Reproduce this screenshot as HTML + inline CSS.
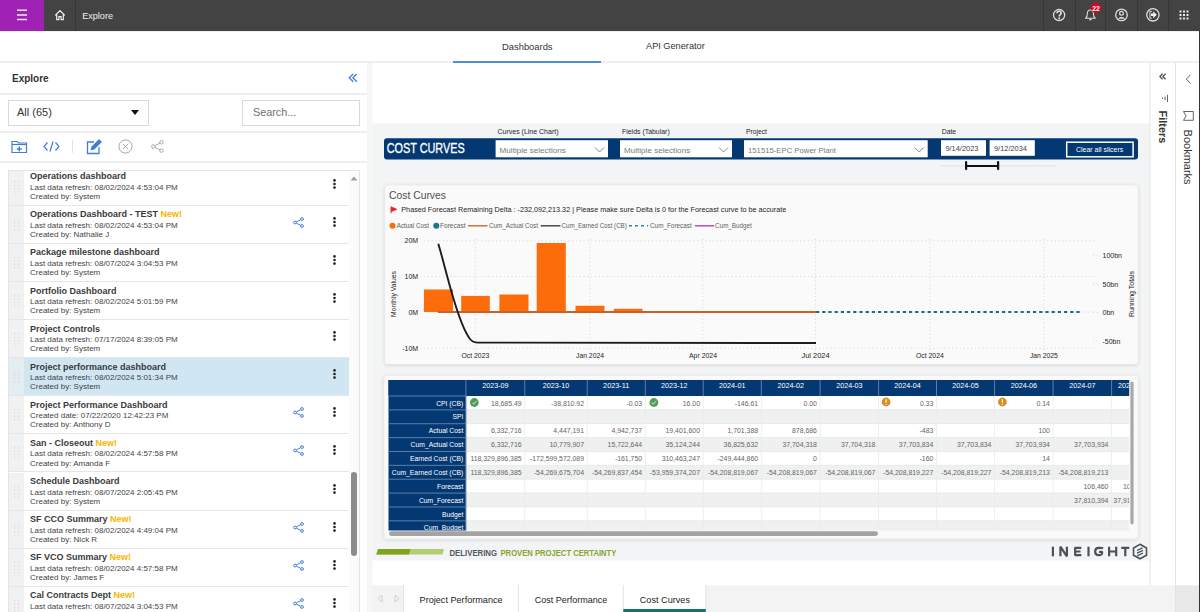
<!DOCTYPE html>
<html><head><meta charset="utf-8">
<style>
*{margin:0;padding:0;box-sizing:border-box}
html,body{width:1200px;height:612px;overflow:hidden;background:#fff;font-family:"Liberation Sans",sans-serif;color:#333}
.a{position:absolute}
.t{position:absolute;white-space:nowrap;line-height:1}
#top{left:0;top:0;width:1200px;height:31px;background:#434343}
#purple{left:0;top:0;width:44px;height:31px;background:#a022b5}
.vsep{position:absolute;top:0;width:1px;height:31px;background:#363636}
.hl{position:absolute;height:2px;background:#efefef}
.item{position:absolute;left:0;width:340px;height:38px;border-bottom:1px solid #e6e6e6;background:#fff}
.item .h{position:absolute;left:0;top:0;width:15px;height:37px;background:#f1f1f1}
.item .ti{position:absolute;left:21px;top:4.5px;font-size:9px;font-weight:bold;color:#3a3a3a;white-space:nowrap;line-height:1}
.item .s1{position:absolute;left:21px;top:16px;font-size:8px;color:#444;white-space:nowrap;line-height:1}
.item .s2{position:absolute;left:21px;top:25.2px;font-size:8px;color:#444;white-space:nowrap;line-height:1}
.item .new{color:#f7b500}
.item.sel{background:#d0e6f3}
.item.sel .h{background:#e4edf1}
</style></head><body>

<!-- top bar -->
<div id="top" class="a"></div>
<div id="purple" class="a"></div>
<div class="a" style="left:0;top:31px;width:1200px;height:1px;background:#f1f1f1"></div>
<div class="vsep" style="left:75px"></div>
<div class="vsep" style="left:1043px"></div>
<div class="vsep" style="left:1075px"></div>
<div class="vsep" style="left:1105px"></div>
<div class="vsep" style="left:1137px"></div>
<div class="vsep" style="left:1168px"></div>

<!-- tabs row -->
<div class="hl" style="left:0;top:61px;width:1200px"></div>
<div class="a" style="left:453px;top:61px;width:148px;height:2px;background:#4a90d9"></div>
<div class="t" style="left:502px;top:42px;font-size:9.4px;color:#333">Dashboards</div>
<div class="t" style="left:646px;top:42.3px;font-size:9.2px;color:#333">API Generator</div>


<!-- SIDEBAR -->
<div class="t" style="left:12px;top:73.5px;font-size:10px;font-weight:bold;color:#333">Explore</div>
<svg class="a" style="left:348px;top:73px" width="11" height="10" viewBox="0 0 11 10"><g fill="none" stroke="#3f7fd8" stroke-width="1.3"><path d="M5.2 1L1.2 4.8L5.2 8.7M8.8 1L4.9 4.8L8.8 8.7"/></g></svg>
<div class="hl" style="left:0;top:93px;width:367px"></div>
<div class="a" style="left:8px;top:100px;width:141px;height:26px;border:1px solid #d9d9d9;background:#fff"></div>
<div class="t" style="left:17px;top:107px;font-size:11px;color:#333">All (65)</div>
<svg class="a" style="left:131px;top:110px" width="8" height="5"><path d="M0 0H8L4 5Z" fill="#111"/></svg>
<div class="a" style="left:242px;top:100px;width:118px;height:26px;border:1px solid #d9d9d9;background:#fff"></div>
<div class="t" style="left:253px;top:107px;font-size:10.8px;color:#6f6f6f">Search...</div>
<div class="hl" style="left:0;top:131px;width:367px"></div>
<!-- toolbar icons -->
<svg class="a" style="left:11px;top:140px" width="17" height="14" viewBox="0 0 17 14"><g fill="none" stroke="#3f7fd8" stroke-width="1.2"><path d="M1 1.5H6L7.5 3H15.5V12.5H1Z"/><path d="M1 4.5H15.5"/><path d="M8.3 6.5V11.5M5.8 9H10.8" stroke-width="1.4"/></g></svg>
<svg class="a" style="left:43px;top:141px" width="17" height="11" viewBox="0 0 17 11"><g fill="none" stroke="#3f7fd8" stroke-width="1.2"><path d="M4.5 1.5L1 5.5L4.5 9.5M12.5 1.5L16 5.5L12.5 9.5M10 0.5L7 10.5"/></g></svg>
<div class="a" style="left:72px;top:140px;width:1px;height:13px;background:#e2e2e2"></div>
<svg class="a" style="left:86px;top:139px" width="16" height="16" viewBox="0 0 16 16"><g fill="none" stroke="#3f7fd8" stroke-width="1.3"><path d="M8 3H1.5V14.5H13V8"/><path d="M5.5 10.5L6 8L13 1L15 3L8 10Z" fill="#3f7fd8"/></g></svg>
<svg class="a" style="left:118px;top:139px" width="15" height="15" viewBox="0 0 15 15"><g fill="none" stroke="#a6a6a6" stroke-width="1"><circle cx="7.5" cy="7.5" r="6.6"/><path d="M4.8 4.8L10.2 10.2M10.2 4.8L4.8 10.2"/></g></svg>
<svg class="a" style="left:151px;top:140px" width="13" height="13" viewBox="0 0 13 13"><g fill="none" stroke="#a6a6a6" stroke-width="1"><circle cx="2.3" cy="6.5" r="1.7"/><circle cx="10.5" cy="2.3" r="1.7"/><circle cx="10.5" cy="10.7" r="1.7"/><path d="M3.8 5.7L9 3.1M3.8 7.3L9 9.9"/></g></svg>
<div class="hl" style="left:0;top:161px;width:367px"></div>
<!-- list -->
<div class="a" style="left:8px;top:170px;width:352px;height:460px;border:1px solid #e4e4e4;overflow:hidden;background:#fff">
<div class="item" style="top:-3.3px"><div class="h"><svg class="a" style="left:5px;top:13px" width="6" height="12"><g fill="#d8d8d8"><rect x="0" y="0" width="1.2" height="1.2"/><rect x="4" y="0" width="1.2" height="1.2"/><rect x="0" y="3.5" width="1.2" height="1.2"/><rect x="4" y="3.5" width="1.2" height="1.2"/><rect x="0" y="7" width="1.2" height="1.2"/><rect x="4" y="7" width="1.2" height="1.2"/><rect x="0" y="10.5" width="1.2" height="1.2"/><rect x="4" y="10.5" width="1.2" height="1.2"/></g></svg></div><div class="ti">Operations dashboard</div><div class="s1">Last data refresh: 08/02/2024 4:53:04 PM</div><div class="s2">Created by: System</div><svg class="a" style="left:324px;top:10px" width="3" height="12"><g fill="#222"><circle cx="1.5" cy="2.4" r="1.3"/><circle cx="1.5" cy="6" r="1.3"/><circle cx="1.5" cy="9.6" r="1.3"/></g></svg></div>
<div class="item" style="top:34.8px"><div class="h"><svg class="a" style="left:5px;top:13px" width="6" height="12"><g fill="#d8d8d8"><rect x="0" y="0" width="1.2" height="1.2"/><rect x="4" y="0" width="1.2" height="1.2"/><rect x="0" y="3.5" width="1.2" height="1.2"/><rect x="4" y="3.5" width="1.2" height="1.2"/><rect x="0" y="7" width="1.2" height="1.2"/><rect x="4" y="7" width="1.2" height="1.2"/><rect x="0" y="10.5" width="1.2" height="1.2"/><rect x="4" y="10.5" width="1.2" height="1.2"/></g></svg></div><div class="ti">Operations Dashboard - TEST <span class="new">New!</span></div><div class="s1">Last data refresh: 08/02/2024 4:53:04 PM</div><div class="s2">Created by: Nathalie J</div><svg class="a" style="left:284px;top:11px" width="11" height="11" viewBox="0 0 11 11"><g fill="none" stroke="#4a7fd4" stroke-width="1"><circle cx="2" cy="5.5" r="1.4"/><circle cx="9" cy="2" r="1.4"/><circle cx="9" cy="9" r="1.4"/><path d="M3.3 4.8L7.7 2.7M3.3 6.2L7.7 8.3"/></g></svg><svg class="a" style="left:324px;top:10px" width="3" height="12"><g fill="#222"><circle cx="1.5" cy="2.4" r="1.3"/><circle cx="1.5" cy="6" r="1.3"/><circle cx="1.5" cy="9.6" r="1.3"/></g></svg></div>
<div class="item" style="top:72.9px"><div class="h"><svg class="a" style="left:5px;top:13px" width="6" height="12"><g fill="#d8d8d8"><rect x="0" y="0" width="1.2" height="1.2"/><rect x="4" y="0" width="1.2" height="1.2"/><rect x="0" y="3.5" width="1.2" height="1.2"/><rect x="4" y="3.5" width="1.2" height="1.2"/><rect x="0" y="7" width="1.2" height="1.2"/><rect x="4" y="7" width="1.2" height="1.2"/><rect x="0" y="10.5" width="1.2" height="1.2"/><rect x="4" y="10.5" width="1.2" height="1.2"/></g></svg></div><div class="ti">Package milestone dashboard</div><div class="s1">Last data refresh: 08/07/2024 3:04:53 PM</div><div class="s2">Created by: System</div><svg class="a" style="left:324px;top:10px" width="3" height="12"><g fill="#222"><circle cx="1.5" cy="2.4" r="1.3"/><circle cx="1.5" cy="6" r="1.3"/><circle cx="1.5" cy="9.6" r="1.3"/></g></svg></div>
<div class="item" style="top:111.0px"><div class="h"><svg class="a" style="left:5px;top:13px" width="6" height="12"><g fill="#d8d8d8"><rect x="0" y="0" width="1.2" height="1.2"/><rect x="4" y="0" width="1.2" height="1.2"/><rect x="0" y="3.5" width="1.2" height="1.2"/><rect x="4" y="3.5" width="1.2" height="1.2"/><rect x="0" y="7" width="1.2" height="1.2"/><rect x="4" y="7" width="1.2" height="1.2"/><rect x="0" y="10.5" width="1.2" height="1.2"/><rect x="4" y="10.5" width="1.2" height="1.2"/></g></svg></div><div class="ti">Portfolio Dashboard</div><div class="s1">Last data refresh: 08/02/2024 5:01:59 PM</div><div class="s2">Created by: System</div><svg class="a" style="left:324px;top:10px" width="3" height="12"><g fill="#222"><circle cx="1.5" cy="2.4" r="1.3"/><circle cx="1.5" cy="6" r="1.3"/><circle cx="1.5" cy="9.6" r="1.3"/></g></svg></div>
<div class="item" style="top:149.1px"><div class="h"><svg class="a" style="left:5px;top:13px" width="6" height="12"><g fill="#d8d8d8"><rect x="0" y="0" width="1.2" height="1.2"/><rect x="4" y="0" width="1.2" height="1.2"/><rect x="0" y="3.5" width="1.2" height="1.2"/><rect x="4" y="3.5" width="1.2" height="1.2"/><rect x="0" y="7" width="1.2" height="1.2"/><rect x="4" y="7" width="1.2" height="1.2"/><rect x="0" y="10.5" width="1.2" height="1.2"/><rect x="4" y="10.5" width="1.2" height="1.2"/></g></svg></div><div class="ti">Project Controls</div><div class="s1">Last data refresh: 07/17/2024 8:39:05 PM</div><div class="s2">Created by: System</div><svg class="a" style="left:324px;top:10px" width="3" height="12"><g fill="#222"><circle cx="1.5" cy="2.4" r="1.3"/><circle cx="1.5" cy="6" r="1.3"/><circle cx="1.5" cy="9.6" r="1.3"/></g></svg></div>
<div class="item sel" style="top:187.2px"><div class="h"><svg class="a" style="left:5px;top:13px" width="6" height="12"><g fill="#d8d8d8"><rect x="0" y="0" width="1.2" height="1.2"/><rect x="4" y="0" width="1.2" height="1.2"/><rect x="0" y="3.5" width="1.2" height="1.2"/><rect x="4" y="3.5" width="1.2" height="1.2"/><rect x="0" y="7" width="1.2" height="1.2"/><rect x="4" y="7" width="1.2" height="1.2"/><rect x="0" y="10.5" width="1.2" height="1.2"/><rect x="4" y="10.5" width="1.2" height="1.2"/></g></svg></div><div class="ti">Project performance dashboard</div><div class="s1">Last data refresh: 08/02/2024 5:01:34 PM</div><div class="s2">Created by: System</div><svg class="a" style="left:324px;top:10px" width="3" height="12"><g fill="#222"><circle cx="1.5" cy="2.4" r="1.3"/><circle cx="1.5" cy="6" r="1.3"/><circle cx="1.5" cy="9.6" r="1.3"/></g></svg></div>
<div class="item" style="top:225.3px"><div class="h"><svg class="a" style="left:5px;top:13px" width="6" height="12"><g fill="#d8d8d8"><rect x="0" y="0" width="1.2" height="1.2"/><rect x="4" y="0" width="1.2" height="1.2"/><rect x="0" y="3.5" width="1.2" height="1.2"/><rect x="4" y="3.5" width="1.2" height="1.2"/><rect x="0" y="7" width="1.2" height="1.2"/><rect x="4" y="7" width="1.2" height="1.2"/><rect x="0" y="10.5" width="1.2" height="1.2"/><rect x="4" y="10.5" width="1.2" height="1.2"/></g></svg></div><div class="ti">Project Performance Dashboard</div><div class="s1">Created date: 07/22/2020 12:42:23 PM</div><div class="s2">Created by: Anthony D</div><svg class="a" style="left:284px;top:11px" width="11" height="11" viewBox="0 0 11 11"><g fill="none" stroke="#4a7fd4" stroke-width="1"><circle cx="2" cy="5.5" r="1.4"/><circle cx="9" cy="2" r="1.4"/><circle cx="9" cy="9" r="1.4"/><path d="M3.3 4.8L7.7 2.7M3.3 6.2L7.7 8.3"/></g></svg><svg class="a" style="left:324px;top:10px" width="3" height="12"><g fill="#222"><circle cx="1.5" cy="2.4" r="1.3"/><circle cx="1.5" cy="6" r="1.3"/><circle cx="1.5" cy="9.6" r="1.3"/></g></svg></div>
<div class="item" style="top:263.4px"><div class="h"><svg class="a" style="left:5px;top:13px" width="6" height="12"><g fill="#d8d8d8"><rect x="0" y="0" width="1.2" height="1.2"/><rect x="4" y="0" width="1.2" height="1.2"/><rect x="0" y="3.5" width="1.2" height="1.2"/><rect x="4" y="3.5" width="1.2" height="1.2"/><rect x="0" y="7" width="1.2" height="1.2"/><rect x="4" y="7" width="1.2" height="1.2"/><rect x="0" y="10.5" width="1.2" height="1.2"/><rect x="4" y="10.5" width="1.2" height="1.2"/></g></svg></div><div class="ti">San - Closeout <span class="new">New!</span></div><div class="s1">Last data refresh: 08/02/2024 4:57:58 PM</div><div class="s2">Created by: Amanda F</div><svg class="a" style="left:284px;top:11px" width="11" height="11" viewBox="0 0 11 11"><g fill="none" stroke="#4a7fd4" stroke-width="1"><circle cx="2" cy="5.5" r="1.4"/><circle cx="9" cy="2" r="1.4"/><circle cx="9" cy="9" r="1.4"/><path d="M3.3 4.8L7.7 2.7M3.3 6.2L7.7 8.3"/></g></svg><svg class="a" style="left:324px;top:10px" width="3" height="12"><g fill="#222"><circle cx="1.5" cy="2.4" r="1.3"/><circle cx="1.5" cy="6" r="1.3"/><circle cx="1.5" cy="9.6" r="1.3"/></g></svg></div>
<div class="item" style="top:301.5px"><div class="h"><svg class="a" style="left:5px;top:13px" width="6" height="12"><g fill="#d8d8d8"><rect x="0" y="0" width="1.2" height="1.2"/><rect x="4" y="0" width="1.2" height="1.2"/><rect x="0" y="3.5" width="1.2" height="1.2"/><rect x="4" y="3.5" width="1.2" height="1.2"/><rect x="0" y="7" width="1.2" height="1.2"/><rect x="4" y="7" width="1.2" height="1.2"/><rect x="0" y="10.5" width="1.2" height="1.2"/><rect x="4" y="10.5" width="1.2" height="1.2"/></g></svg></div><div class="ti">Schedule Dashboard</div><div class="s1">Last data refresh: 08/07/2024 2:05:45 PM</div><div class="s2">Created by: System</div><svg class="a" style="left:324px;top:10px" width="3" height="12"><g fill="#222"><circle cx="1.5" cy="2.4" r="1.3"/><circle cx="1.5" cy="6" r="1.3"/><circle cx="1.5" cy="9.6" r="1.3"/></g></svg></div>
<div class="item" style="top:339.6px"><div class="h"><svg class="a" style="left:5px;top:13px" width="6" height="12"><g fill="#d8d8d8"><rect x="0" y="0" width="1.2" height="1.2"/><rect x="4" y="0" width="1.2" height="1.2"/><rect x="0" y="3.5" width="1.2" height="1.2"/><rect x="4" y="3.5" width="1.2" height="1.2"/><rect x="0" y="7" width="1.2" height="1.2"/><rect x="4" y="7" width="1.2" height="1.2"/><rect x="0" y="10.5" width="1.2" height="1.2"/><rect x="4" y="10.5" width="1.2" height="1.2"/></g></svg></div><div class="ti">SF CCO Summary <span class="new">New!</span></div><div class="s1">Last data refresh: 08/02/2024 4:49:04 PM</div><div class="s2">Created by: Nick R</div><svg class="a" style="left:284px;top:11px" width="11" height="11" viewBox="0 0 11 11"><g fill="none" stroke="#4a7fd4" stroke-width="1"><circle cx="2" cy="5.5" r="1.4"/><circle cx="9" cy="2" r="1.4"/><circle cx="9" cy="9" r="1.4"/><path d="M3.3 4.8L7.7 2.7M3.3 6.2L7.7 8.3"/></g></svg><svg class="a" style="left:324px;top:10px" width="3" height="12"><g fill="#222"><circle cx="1.5" cy="2.4" r="1.3"/><circle cx="1.5" cy="6" r="1.3"/><circle cx="1.5" cy="9.6" r="1.3"/></g></svg></div>
<div class="item" style="top:377.7px"><div class="h"><svg class="a" style="left:5px;top:13px" width="6" height="12"><g fill="#d8d8d8"><rect x="0" y="0" width="1.2" height="1.2"/><rect x="4" y="0" width="1.2" height="1.2"/><rect x="0" y="3.5" width="1.2" height="1.2"/><rect x="4" y="3.5" width="1.2" height="1.2"/><rect x="0" y="7" width="1.2" height="1.2"/><rect x="4" y="7" width="1.2" height="1.2"/><rect x="0" y="10.5" width="1.2" height="1.2"/><rect x="4" y="10.5" width="1.2" height="1.2"/></g></svg></div><div class="ti">SF VCO Summary <span class="new">New!</span></div><div class="s1">Last data refresh: 08/02/2024 4:57:58 PM</div><div class="s2">Created by: James F</div><svg class="a" style="left:284px;top:11px" width="11" height="11" viewBox="0 0 11 11"><g fill="none" stroke="#4a7fd4" stroke-width="1"><circle cx="2" cy="5.5" r="1.4"/><circle cx="9" cy="2" r="1.4"/><circle cx="9" cy="9" r="1.4"/><path d="M3.3 4.8L7.7 2.7M3.3 6.2L7.7 8.3"/></g></svg><svg class="a" style="left:324px;top:10px" width="3" height="12"><g fill="#222"><circle cx="1.5" cy="2.4" r="1.3"/><circle cx="1.5" cy="6" r="1.3"/><circle cx="1.5" cy="9.6" r="1.3"/></g></svg></div>
<div class="item" style="top:415.8px"><div class="h"><svg class="a" style="left:5px;top:13px" width="6" height="12"><g fill="#d8d8d8"><rect x="0" y="0" width="1.2" height="1.2"/><rect x="4" y="0" width="1.2" height="1.2"/><rect x="0" y="3.5" width="1.2" height="1.2"/><rect x="4" y="3.5" width="1.2" height="1.2"/><rect x="0" y="7" width="1.2" height="1.2"/><rect x="4" y="7" width="1.2" height="1.2"/><rect x="0" y="10.5" width="1.2" height="1.2"/><rect x="4" y="10.5" width="1.2" height="1.2"/></g></svg></div><div class="ti">Cal Contracts Dept <span class="new">New!</span></div><div class="s1">Last data refresh: 08/07/2024 3:04:53 PM</div><div class="s2">Created by: James F</div><svg class="a" style="left:284px;top:11px" width="11" height="11" viewBox="0 0 11 11"><g fill="none" stroke="#4a7fd4" stroke-width="1"><circle cx="2" cy="5.5" r="1.4"/><circle cx="9" cy="2" r="1.4"/><circle cx="9" cy="9" r="1.4"/><path d="M3.3 4.8L7.7 2.7M3.3 6.2L7.7 8.3"/></g></svg><svg class="a" style="left:324px;top:10px" width="3" height="12"><g fill="#222"><circle cx="1.5" cy="2.4" r="1.3"/><circle cx="1.5" cy="6" r="1.3"/><circle cx="1.5" cy="9.6" r="1.3"/></g></svg></div>
<div class="a" style="left:340px;top:0;width:10px;height:460px;background:#fbfbfb"></div>
<svg class="a" style="left:341px;top:5px" width="8" height="5"><path d="M0.5 4.5H7.5L4 0.5Z" fill="#a0a0a0"/></svg>
<div class="a" style="left:342px;top:301px;width:6px;height:84px;border-radius:3px;background:#8c8c8c"></div>
</div>


<svg class="a" style="left:0;top:0" width="1200" height="612" font-family="Liberation Sans"><rect x="367" y="63" width="5.5" height="549" fill="#f6f6f6"/>
<rect x="372.5" y="123.5" width="777" height="437" fill="#f3f4f6"/>
<text x="497.5" y="133.8" font-size="7.2" fill="#252423" text-anchor="start" font-weight="normal" textLength="61" lengthAdjust="spacingAndGlyphs">Curves (Line Chart)</text>
<text x="622" y="133.8" font-size="7.2" fill="#252423" text-anchor="start" font-weight="normal" textLength="47.7" lengthAdjust="spacingAndGlyphs">Fields (Tabular)</text>
<text x="746" y="133.8" font-size="7.2" fill="#252423" text-anchor="start" font-weight="normal" textLength="21" lengthAdjust="spacingAndGlyphs">Project</text>
<text x="941.7" y="133.8" font-size="7.2" fill="#252423" text-anchor="start" font-weight="normal" textLength="14.5" lengthAdjust="spacingAndGlyphs">Date</text>
<rect x="384" y="138.3" width="754" height="21.1" rx="3" fill="#043873"/>
<text x="386.7" y="153.3" font-size="13.8" fill="#fff" text-anchor="start" font-weight="normal" textLength="78" lengthAdjust="spacingAndGlyphs" stroke="#fff" stroke-width="0.3">COST CURVES</text>
<rect x="495.6" y="140.2" width="112.39999999999998" height="17.1" fill="#fff"/>
<text x="499.6" y="153" font-size="7.8" fill="#7a7a7a" text-anchor="start" font-weight="normal" textLength="66.2" lengthAdjust="spacingAndGlyphs">Multiple selections</text>
<path d="M595.0 147.5L599.5 152L604.0 147.5" fill="none" stroke="#777" stroke-width="0.9"/>
<rect x="620" y="140.2" width="112" height="17.1" fill="#fff"/>
<text x="624" y="153" font-size="7.8" fill="#7a7a7a" text-anchor="start" font-weight="normal" textLength="66.2" lengthAdjust="spacingAndGlyphs">Multiple selections</text>
<path d="M719.0 147.5L723.5 152L728.0 147.5" fill="none" stroke="#777" stroke-width="0.9"/>
<rect x="744" y="140.2" width="183.70000000000005" height="17.1" fill="#fff"/>
<text x="748" y="153" font-size="7.8" fill="#7a7a7a" text-anchor="start" font-weight="normal" textLength="88" lengthAdjust="spacingAndGlyphs">151515-EPC Power Plant</text>
<path d="M914.7 147.5L919.2 152L923.7 147.5" fill="none" stroke="#777" stroke-width="0.9"/>
<rect x="941" y="140.2" width="45" height="15.6" fill="#fff"/>
<text x="945.4" y="151.2" font-size="7.4" fill="#444" text-anchor="start" font-weight="normal" textLength="33" lengthAdjust="spacingAndGlyphs">9/14/2023</text>
<rect x="989.6" y="140.2" width="45.19999999999993" height="15.6" fill="#fff"/>
<text x="994.0" y="151.2" font-size="7.4" fill="#444" text-anchor="start" font-weight="normal" textLength="33" lengthAdjust="spacingAndGlyphs">9/12/2034</text>
<rect x="1066.7" y="142.2" width="66.4" height="14.6" fill="#043873" stroke="#fff" stroke-width="1.5"/>
<text x="1076" y="152.3" font-size="7.2" fill="#fff" text-anchor="start" font-weight="normal" textLength="47.3" lengthAdjust="spacingAndGlyphs">Clear all slicers</text>
<rect x="941" y="165.3" width="115" height="1" fill="#e2e2e2"/>
<rect x="966" y="165" width="32" height="2" fill="#111"/>
<rect x="965" y="161" width="2.2" height="9" rx="1" fill="#111"/>
<rect x="997" y="161" width="2.2" height="9" rx="1" fill="#111"/>
<defs><filter id="sh" x="-5%" y="-10%" width="110%" height="120%"><feDropShadow dx="0" dy="0.6" stdDeviation="1.6" flood-color="#000" flood-opacity="0.13"/></filter></defs>
<rect x="384.7" y="185" width="753.5" height="179.5" rx="3" fill="#fafafa" stroke="#e6e6e6" stroke-width="0.8" filter="url(#sh)"/>
<text x="389" y="198.8" font-size="11.2" fill="#505050" text-anchor="start" font-weight="normal" textLength="57" lengthAdjust="spacingAndGlyphs">Cost Curves</text>
<path d="M391 213.5V206.7M391.3 206.9L396.8 209.3L391.3 211.6Z" fill="#e8202a" stroke="#e8202a" stroke-width="0.8"/>
<text x="401.3" y="212.4" font-size="7.6" fill="#252423" text-anchor="start" font-weight="normal" textLength="385" lengthAdjust="spacingAndGlyphs">Phased Forecast Remaining Delta : -232,092,213.32 | Please make sure Delta is 0 for the Forecast curve to be accurate</text>
<circle cx="392.5" cy="225.8" r="3" fill="#fc6c0d"/>
<text x="396.7" y="228.2" font-size="6.6" fill="#605e5c" text-anchor="start" font-weight="normal" textLength="32.3" lengthAdjust="spacingAndGlyphs">Actual Cost</text>
<circle cx="436.3" cy="225.8" r="3" fill="#12798f"/>
<text x="440" y="228.2" font-size="6.6" fill="#605e5c" text-anchor="start" font-weight="normal" textLength="25.5" lengthAdjust="spacingAndGlyphs">Forecast</text>
<path d="M468 225.8H487.5" stroke="#d07a45" stroke-width="1.6"/>
<text x="489" y="228.2" font-size="6.6" fill="#605e5c" text-anchor="start" font-weight="normal" textLength="49" lengthAdjust="spacingAndGlyphs">Cum_Actual Cost</text>
<path d="M540.8 225.8H560.4" stroke="#555" stroke-width="1.6"/>
<text x="561.5" y="228.2" font-size="6.6" fill="#605e5c" text-anchor="start" font-weight="normal" textLength="65.3" lengthAdjust="spacingAndGlyphs">Cum_Earned Cost (CB)</text>
<path d="M629 225.8H648.2" stroke="#2a8aa6" stroke-width="1.4" stroke-dasharray="3 3"/>
<text x="650" y="228.2" font-size="6.6" fill="#605e5c" text-anchor="start" font-weight="normal" textLength="41.7" lengthAdjust="spacingAndGlyphs">Cum_Forecast</text>
<path d="M694.9 225.8H714.2" stroke="#c05ab0" stroke-width="1.6"/>
<text x="715.1" y="228.2" font-size="6.6" fill="#605e5c" text-anchor="start" font-weight="normal" textLength="36.7" lengthAdjust="spacingAndGlyphs">Cum_Budget</text>
<path d="M424 240.8H1096" stroke="#cdcdcd" stroke-width="0.8" stroke-dasharray="1 2.8"/>
<path d="M424 276.5H1096" stroke="#cdcdcd" stroke-width="0.8" stroke-dasharray="1 2.8"/>
<path d="M424 312.0H1096" stroke="#cdcdcd" stroke-width="0.8" stroke-dasharray="1 2.8"/>
<path d="M424 348.3H1096" stroke="#cdcdcd" stroke-width="0.8" stroke-dasharray="1 2.8"/>
<path d="M475.4 239V350" stroke="#cdcdcd" stroke-width="0.8" stroke-dasharray="1 2.8"/>
<path d="M590 239V350" stroke="#cdcdcd" stroke-width="0.8" stroke-dasharray="1 2.8"/>
<path d="M703 239V350" stroke="#cdcdcd" stroke-width="0.8" stroke-dasharray="1 2.8"/>
<path d="M815.5 239V350" stroke="#cdcdcd" stroke-width="0.8" stroke-dasharray="1 2.8"/>
<path d="M929.9 239V350" stroke="#cdcdcd" stroke-width="0.8" stroke-dasharray="1 2.8"/>
<path d="M1043.9 239V350" stroke="#cdcdcd" stroke-width="0.8" stroke-dasharray="1 2.8"/>
<text x="418.2" y="243.4" font-size="7" fill="#252423" text-anchor="end" font-weight="normal">20M</text>
<text x="418.2" y="279.1" font-size="7" fill="#252423" text-anchor="end" font-weight="normal">10M</text>
<text x="418.2" y="314.6" font-size="7" fill="#252423" text-anchor="end" font-weight="normal">0M</text>
<text x="418.2" y="350.90000000000003" font-size="7" fill="#252423" text-anchor="end" font-weight="normal">-10M</text>
<text x="1102.5" y="258.0" font-size="7" fill="#252423" text-anchor="start" font-weight="normal">100bn</text>
<path d="M1093 255.4H1098.5" stroke="#cdcdcd" stroke-width="0.8" stroke-dasharray="1 2.8"/>
<text x="1102.5" y="286.5" font-size="7" fill="#252423" text-anchor="start" font-weight="normal">50bn</text>
<path d="M1093 283.9H1098.5" stroke="#cdcdcd" stroke-width="0.8" stroke-dasharray="1 2.8"/>
<text x="1102.5" y="315.0" font-size="7" fill="#252423" text-anchor="start" font-weight="normal">0bn</text>
<path d="M1093 312.4H1098.5" stroke="#cdcdcd" stroke-width="0.8" stroke-dasharray="1 2.8"/>
<text x="1102.5" y="343.5" font-size="7" fill="#252423" text-anchor="start" font-weight="normal">-50bn</text>
<path d="M1093 340.9H1098.5" stroke="#cdcdcd" stroke-width="0.8" stroke-dasharray="1 2.8"/>
<text x="475.4" y="358.4" font-size="7" fill="#252423" text-anchor="middle" font-weight="normal" textLength="28" lengthAdjust="spacingAndGlyphs">Oct 2023</text>
<text x="590" y="358.4" font-size="7" fill="#252423" text-anchor="middle" font-weight="normal" textLength="28" lengthAdjust="spacingAndGlyphs">Jan 2024</text>
<text x="703" y="358.4" font-size="7" fill="#252423" text-anchor="middle" font-weight="normal" textLength="28" lengthAdjust="spacingAndGlyphs">Apr 2024</text>
<text x="815.5" y="358.4" font-size="7" fill="#252423" text-anchor="middle" font-weight="normal" textLength="28" lengthAdjust="spacingAndGlyphs">Jul 2024</text>
<text x="929.9" y="358.4" font-size="7" fill="#252423" text-anchor="middle" font-weight="normal" textLength="28" lengthAdjust="spacingAndGlyphs">Oct 2024</text>
<text x="1043.9" y="358.4" font-size="7" fill="#252423" text-anchor="middle" font-weight="normal" textLength="28" lengthAdjust="spacingAndGlyphs">Jan 2025</text>
<text transform="translate(396,294) rotate(-90)" font-size="7" fill="#252423" text-anchor="middle" textLength="46" lengthAdjust="spacingAndGlyphs">Monthly Values</text>
<text transform="translate(1133.5,294) rotate(-90)" font-size="7" fill="#252423" text-anchor="middle" textLength="46" lengthAdjust="spacingAndGlyphs">Running Totals</text>
<rect x="423.9" y="289.5" width="29.100000000000023" height="22.5" fill="#fd6c0b"/>
<rect x="461.2" y="295.9" width="28.600000000000023" height="16.100000000000023" fill="#fd6c0b"/>
<rect x="499.4" y="294.5" width="29.100000000000023" height="17.5" fill="#fd6c0b"/>
<rect x="536.7" y="243" width="29.09999999999991" height="69" fill="#fd6c0b"/>
<rect x="575.5" y="305.75" width="29.0" height="6.25" fill="#fd6c0b"/>
<rect x="613.75" y="308.75" width="28.75" height="3.25" fill="#fd6c0b"/>
<path d="M437.7 312H816" stroke="#c9622a" stroke-width="2"/>
<path d="M816 312H1080" stroke="#12708a" stroke-width="1.8" stroke-dasharray="3.2 3"/>
<path d="M438.3 243.8C442 256 448 280 453 297C458 314 464 331 470 339C472.5 342 474 342.6 478 342.6L816 343" fill="none" stroke="#1d1d1d" stroke-width="1.9"/>
<rect x="383.8" y="375.3" width="754.4" height="163.8" rx="3" fill="#fafafa" stroke="#e6e6e6" stroke-width="0.8" filter="url(#sh)"/>
<defs><clipPath id="tc"><rect x="388.3" y="380" width="740.9" height="150.4"/></clipPath></defs>
<g clip-path="url(#tc)">
<rect x="388.3" y="380" width="800" height="160" fill="#fff"/>
<rect x="465.9" y="409.87" width="720" height="13.8" fill="#eff0f0"/>
<rect x="465.9" y="409.37" width="720" height="0.8" fill="#e6e6e6"/>
<rect x="465.9" y="423.24" width="720" height="0.8" fill="#e6e6e6"/>
<rect x="465.9" y="437.61" width="720" height="13.8" fill="#eff0f0"/>
<rect x="465.9" y="437.11" width="720" height="0.8" fill="#e6e6e6"/>
<rect x="465.9" y="450.98" width="720" height="0.8" fill="#e6e6e6"/>
<rect x="465.9" y="465.35" width="720" height="13.8" fill="#eff0f0"/>
<rect x="465.9" y="464.85" width="720" height="0.8" fill="#e6e6e6"/>
<rect x="465.9" y="478.72" width="720" height="0.8" fill="#e6e6e6"/>
<rect x="465.9" y="493.09" width="720" height="13.8" fill="#eff0f0"/>
<rect x="465.9" y="492.59" width="720" height="0.8" fill="#e6e6e6"/>
<rect x="465.9" y="506.46" width="720" height="0.8" fill="#e6e6e6"/>
<rect x="465.9" y="520.83" width="720" height="13.8" fill="#eff0f0"/>
<rect x="465.9" y="520.33" width="720" height="0.8" fill="#e6e6e6"/>
<rect x="524.4" y="395.6" width="0.8" height="140" fill="#ececec"/>
<rect x="586.8000000000001" y="395.6" width="0.8" height="140" fill="#ececec"/>
<rect x="644.9" y="395.6" width="0.8" height="140" fill="#ececec"/>
<rect x="702.8000000000001" y="395.6" width="0.8" height="140" fill="#ececec"/>
<rect x="760.9" y="395.6" width="0.8" height="140" fill="#ececec"/>
<rect x="819.7" y="395.6" width="0.8" height="140" fill="#ececec"/>
<rect x="878.2" y="395.6" width="0.8" height="140" fill="#ececec"/>
<rect x="936.1" y="395.6" width="0.8" height="140" fill="#ececec"/>
<rect x="994.2" y="395.6" width="0.8" height="140" fill="#ececec"/>
<rect x="1052.6999999999998" y="395.6" width="0.8" height="140" fill="#ececec"/>
<rect x="1111.1999999999998" y="395.6" width="0.8" height="140" fill="#ececec"/>
<rect x="1150.6" y="395.6" width="0.8" height="140" fill="#ececec"/>
<rect x="388.3" y="380" width="800" height="16" fill="#043873"/>
<rect x="388.3" y="380" width="77.6" height="160" fill="#043873"/>
<rect x="524.3" y="380" width="1" height="16" fill="#5d7ea6"/>
<rect x="586.7" y="380" width="1" height="16" fill="#5d7ea6"/>
<rect x="644.8" y="380" width="1" height="16" fill="#5d7ea6"/>
<rect x="702.7" y="380" width="1" height="16" fill="#5d7ea6"/>
<rect x="760.8" y="380" width="1" height="16" fill="#5d7ea6"/>
<rect x="819.6" y="380" width="1" height="16" fill="#5d7ea6"/>
<rect x="878.1" y="380" width="1" height="16" fill="#5d7ea6"/>
<rect x="936.0" y="380" width="1" height="16" fill="#5d7ea6"/>
<rect x="994.1" y="380" width="1" height="16" fill="#5d7ea6"/>
<rect x="1052.6" y="380" width="1" height="16" fill="#5d7ea6"/>
<rect x="1111.1" y="380" width="1" height="16" fill="#5d7ea6"/>
<rect x="1150.5" y="380" width="1" height="16" fill="#5d7ea6"/>
<rect x="465.4" y="380" width="1" height="160" fill="#5d7ea6"/>
<rect x="388.3" y="395.5" width="77.6" height="1" fill="#5d7ea6"/>
<rect x="388.3" y="409.37" width="77.6" height="1" fill="#5d7ea6"/>
<rect x="388.3" y="423.24" width="77.6" height="1" fill="#5d7ea6"/>
<rect x="388.3" y="437.11" width="77.6" height="1" fill="#5d7ea6"/>
<rect x="388.3" y="450.98" width="77.6" height="1" fill="#5d7ea6"/>
<rect x="388.3" y="464.85" width="77.6" height="1" fill="#5d7ea6"/>
<rect x="388.3" y="478.72" width="77.6" height="1" fill="#5d7ea6"/>
<rect x="388.3" y="492.59" width="77.6" height="1" fill="#5d7ea6"/>
<rect x="388.3" y="506.46" width="77.6" height="1" fill="#5d7ea6"/>
<rect x="388.3" y="520.33" width="77.6" height="1" fill="#5d7ea6"/>
<text x="495.34999999999997" y="388.2" font-size="7.3" fill="#fff" text-anchor="middle" font-weight="normal" textLength="26.4" lengthAdjust="spacingAndGlyphs">2023-09</text>
<text x="556.0" y="388.2" font-size="7.3" fill="#fff" text-anchor="middle" font-weight="normal" textLength="26.4" lengthAdjust="spacingAndGlyphs">2023-10</text>
<text x="616.25" y="388.2" font-size="7.3" fill="#fff" text-anchor="middle" font-weight="normal" textLength="26.4" lengthAdjust="spacingAndGlyphs">2023-11</text>
<text x="674.25" y="388.2" font-size="7.3" fill="#fff" text-anchor="middle" font-weight="normal" textLength="26.4" lengthAdjust="spacingAndGlyphs">2023-12</text>
<text x="732.25" y="388.2" font-size="7.3" fill="#fff" text-anchor="middle" font-weight="normal" textLength="26.4" lengthAdjust="spacingAndGlyphs">2024-01</text>
<text x="790.7" y="388.2" font-size="7.3" fill="#fff" text-anchor="middle" font-weight="normal" textLength="26.4" lengthAdjust="spacingAndGlyphs">2024-02</text>
<text x="849.35" y="388.2" font-size="7.3" fill="#fff" text-anchor="middle" font-weight="normal" textLength="26.4" lengthAdjust="spacingAndGlyphs">2024-03</text>
<text x="907.55" y="388.2" font-size="7.3" fill="#fff" text-anchor="middle" font-weight="normal" textLength="26.4" lengthAdjust="spacingAndGlyphs">2024-04</text>
<text x="965.55" y="388.2" font-size="7.3" fill="#fff" text-anchor="middle" font-weight="normal" textLength="26.4" lengthAdjust="spacingAndGlyphs">2024-05</text>
<text x="1023.8499999999999" y="388.2" font-size="7.3" fill="#fff" text-anchor="middle" font-weight="normal" textLength="26.4" lengthAdjust="spacingAndGlyphs">2024-06</text>
<text x="1082.35" y="388.2" font-size="7.3" fill="#fff" text-anchor="middle" font-weight="normal" textLength="26.4" lengthAdjust="spacingAndGlyphs">2024-07</text>
<text x="1131.3" y="388.2" font-size="7.3" fill="#fff" text-anchor="middle" font-weight="normal" textLength="26.4" lengthAdjust="spacingAndGlyphs">2024-08</text>
<text x="463.3" y="405.6" font-size="7.2" fill="#fff" text-anchor="end" font-weight="normal" textLength="27.1" lengthAdjust="spacingAndGlyphs">CPI (CB)</text>
<text x="463.3" y="419.47" font-size="7.2" fill="#fff" text-anchor="end" font-weight="normal" textLength="10.9" lengthAdjust="spacingAndGlyphs">SPI</text>
<text x="463.3" y="433.34000000000003" font-size="7.2" fill="#fff" text-anchor="end" font-weight="normal" textLength="34.6" lengthAdjust="spacingAndGlyphs">Actual Cost</text>
<text x="463.3" y="447.21000000000004" font-size="7.2" fill="#fff" text-anchor="end" font-weight="normal" textLength="52.7" lengthAdjust="spacingAndGlyphs">Cum_Actual Cost</text>
<text x="463.3" y="461.08000000000004" font-size="7.2" fill="#fff" text-anchor="end" font-weight="normal" textLength="53.4" lengthAdjust="spacingAndGlyphs">Earned Cost (CB)</text>
<text x="463.3" y="474.95000000000005" font-size="7.2" fill="#fff" text-anchor="end" font-weight="normal" textLength="71.5" lengthAdjust="spacingAndGlyphs">Cum_Earned Cost (CB)</text>
<text x="463.3" y="488.82000000000005" font-size="7.2" fill="#fff" text-anchor="end" font-weight="normal" textLength="26.3" lengthAdjust="spacingAndGlyphs">Forecast</text>
<text x="463.3" y="502.69" font-size="7.2" fill="#fff" text-anchor="end" font-weight="normal" textLength="44.4" lengthAdjust="spacingAndGlyphs">Cum_Forecast</text>
<text x="463.3" y="516.56" font-size="7.2" fill="#fff" text-anchor="end" font-weight="normal" textLength="21.4" lengthAdjust="spacingAndGlyphs">Budget</text>
<text x="463.3" y="530.4300000000001" font-size="7.2" fill="#fff" text-anchor="end" font-weight="normal" textLength="39.5" lengthAdjust="spacingAndGlyphs">Cum_Budget</text>
<text x="521.5999999999999" y="405.6" font-size="6.9" fill="#666" text-anchor="end" font-weight="normal">18,685.49</text>
<text x="584.0" y="405.6" font-size="6.9" fill="#666" text-anchor="end" font-weight="normal">-38,810.92</text>
<text x="642.0999999999999" y="405.6" font-size="6.9" fill="#666" text-anchor="end" font-weight="normal">-0.03</text>
<text x="700.0" y="405.6" font-size="6.9" fill="#666" text-anchor="end" font-weight="normal">16.00</text>
<text x="758.0999999999999" y="405.6" font-size="6.9" fill="#666" text-anchor="end" font-weight="normal">-146.61</text>
<text x="816.9" y="405.6" font-size="6.9" fill="#666" text-anchor="end" font-weight="normal">0.00</text>
<text x="933.3" y="405.6" font-size="6.9" fill="#666" text-anchor="end" font-weight="normal">0.33</text>
<text x="1049.8999999999999" y="405.6" font-size="6.9" fill="#666" text-anchor="end" font-weight="normal">0.14</text>
<text x="521.5999999999999" y="433.34000000000003" font-size="6.9" fill="#666" text-anchor="end" font-weight="normal">6,332,716</text>
<text x="584.0" y="433.34000000000003" font-size="6.9" fill="#666" text-anchor="end" font-weight="normal">4,447,191</text>
<text x="642.0999999999999" y="433.34000000000003" font-size="6.9" fill="#666" text-anchor="end" font-weight="normal">4,942,737</text>
<text x="700.0" y="433.34000000000003" font-size="6.9" fill="#666" text-anchor="end" font-weight="normal">19,401,600</text>
<text x="758.0999999999999" y="433.34000000000003" font-size="6.9" fill="#666" text-anchor="end" font-weight="normal">1,701,388</text>
<text x="816.9" y="433.34000000000003" font-size="6.9" fill="#666" text-anchor="end" font-weight="normal">878,686</text>
<text x="933.3" y="433.34000000000003" font-size="6.9" fill="#666" text-anchor="end" font-weight="normal">-483</text>
<text x="1049.8999999999999" y="433.34000000000003" font-size="6.9" fill="#666" text-anchor="end" font-weight="normal">100</text>
<text x="521.5999999999999" y="447.21000000000004" font-size="6.9" fill="#666" text-anchor="end" font-weight="normal">6,332,716</text>
<text x="584.0" y="447.21000000000004" font-size="6.9" fill="#666" text-anchor="end" font-weight="normal">10,779,907</text>
<text x="642.0999999999999" y="447.21000000000004" font-size="6.9" fill="#666" text-anchor="end" font-weight="normal">15,722,644</text>
<text x="700.0" y="447.21000000000004" font-size="6.9" fill="#666" text-anchor="end" font-weight="normal">35,124,244</text>
<text x="758.0999999999999" y="447.21000000000004" font-size="6.9" fill="#666" text-anchor="end" font-weight="normal">36,825,632</text>
<text x="816.9" y="447.21000000000004" font-size="6.9" fill="#666" text-anchor="end" font-weight="normal">37,704,318</text>
<text x="875.4" y="447.21000000000004" font-size="6.9" fill="#666" text-anchor="end" font-weight="normal">37,704,318</text>
<text x="933.3" y="447.21000000000004" font-size="6.9" fill="#666" text-anchor="end" font-weight="normal">37,703,834</text>
<text x="991.4" y="447.21000000000004" font-size="6.9" fill="#666" text-anchor="end" font-weight="normal">37,703,834</text>
<text x="1049.8999999999999" y="447.21000000000004" font-size="6.9" fill="#666" text-anchor="end" font-weight="normal">37,703,934</text>
<text x="1108.3999999999999" y="447.21000000000004" font-size="6.9" fill="#666" text-anchor="end" font-weight="normal">37,703,934</text>
<text x="521.5999999999999" y="461.08000000000004" font-size="6.9" fill="#666" text-anchor="end" font-weight="normal">118,329,896,385</text>
<text x="584.0" y="461.08000000000004" font-size="6.9" fill="#666" text-anchor="end" font-weight="normal">-172,599,572,089</text>
<text x="642.0999999999999" y="461.08000000000004" font-size="6.9" fill="#666" text-anchor="end" font-weight="normal">-161,750</text>
<text x="700.0" y="461.08000000000004" font-size="6.9" fill="#666" text-anchor="end" font-weight="normal">310,463,247</text>
<text x="758.0999999999999" y="461.08000000000004" font-size="6.9" fill="#666" text-anchor="end" font-weight="normal">-249,444,860</text>
<text x="816.9" y="461.08000000000004" font-size="6.9" fill="#666" text-anchor="end" font-weight="normal">0</text>
<text x="933.3" y="461.08000000000004" font-size="6.9" fill="#666" text-anchor="end" font-weight="normal">-160</text>
<text x="1049.8999999999999" y="461.08000000000004" font-size="6.9" fill="#666" text-anchor="end" font-weight="normal">14</text>
<text x="521.5999999999999" y="474.95000000000005" font-size="6.9" fill="#666" text-anchor="end" font-weight="normal">118,329,896,385</text>
<text x="584.0" y="474.95000000000005" font-size="6.9" fill="#666" text-anchor="end" font-weight="normal">-54,269,675,704</text>
<text x="642.0999999999999" y="474.95000000000005" font-size="6.9" fill="#666" text-anchor="end" font-weight="normal">-54,269,837,454</text>
<text x="700.0" y="474.95000000000005" font-size="6.9" fill="#666" text-anchor="end" font-weight="normal">-53,959,374,207</text>
<text x="758.0999999999999" y="474.95000000000005" font-size="6.9" fill="#666" text-anchor="end" font-weight="normal">-54,208,819,067</text>
<text x="816.9" y="474.95000000000005" font-size="6.9" fill="#666" text-anchor="end" font-weight="normal">-54,208,819,067</text>
<text x="875.4" y="474.95000000000005" font-size="6.9" fill="#666" text-anchor="end" font-weight="normal">-54,208,819,067</text>
<text x="933.3" y="474.95000000000005" font-size="6.9" fill="#666" text-anchor="end" font-weight="normal">-54,208,819,227</text>
<text x="991.4" y="474.95000000000005" font-size="6.9" fill="#666" text-anchor="end" font-weight="normal">-54,208,819,227</text>
<text x="1049.8999999999999" y="474.95000000000005" font-size="6.9" fill="#666" text-anchor="end" font-weight="normal">-54,208,819,213</text>
<text x="1108.3999999999999" y="474.95000000000005" font-size="6.9" fill="#666" text-anchor="end" font-weight="normal">-54,208,819,213</text>
<text x="1108.3999999999999" y="488.82000000000005" font-size="6.9" fill="#666" text-anchor="end" font-weight="normal">106,460</text>
<text x="1147.8" y="488.82000000000005" font-size="6.9" fill="#666" text-anchor="end" font-weight="normal">106,460</text>
<text x="1108.3999999999999" y="502.69" font-size="6.9" fill="#666" text-anchor="end" font-weight="normal">37,810,394</text>
<text x="1147.8" y="502.69" font-size="6.9" fill="#666" text-anchor="end" font-weight="normal">37,916,854</text>
</g>
<circle cx="474.3" cy="402.5" r="4.4" fill="#4e9b5b"/><path d="M472.1 402.6L473.7 404.2L476.6 401" fill="none" stroke="#d8f0d8" stroke-width="1"/>
<circle cx="653.9" cy="402.5" r="4.4" fill="#4e9b5b"/><path d="M651.6999999999999 402.6L653.3 404.2L656.1999999999999 401" fill="none" stroke="#d8f0d8" stroke-width="1"/>
<circle cx="886.1" cy="402" r="4.4" fill="#d68f23"/><path d="M886.1 399.3V402.8M886.1 404V404.8" stroke="#fff" stroke-width="1.2"/>
<circle cx="1002.4" cy="402" r="4.4" fill="#d68f23"/><path d="M1002.4 399.3V402.8M1002.4 404V404.8" stroke="#fff" stroke-width="1.2"/>
<rect x="389" y="531.2" width="489" height="4.8" rx="2.4" fill="#a3a3a3"/>
<rect x="1130.4" y="381.4" width="3.2" height="143" rx="1.6" fill="#a8a8a8"/>
<path d="M378 549H444L442.5 554.5H376.3Z" fill="#b4cd72"/>
<path d="M378 549H410.5L409 554.5H376.3Z" fill="#7fa51b"/>
<text x="449.5" y="555.9" font-size="9.4" fill="#505a64" text-anchor="start" font-weight="bold" textLength="47.5" lengthAdjust="spacingAndGlyphs">DELIVERING</text>
<text x="500.5" y="555.9" font-size="9.4" fill="#86a62a" text-anchor="start" font-weight="bold" textLength="115.9" lengthAdjust="spacingAndGlyphs">PROVEN PROJECT CERTAINTY</text>
<g fill="none" stroke="#4a5358" stroke-width="2.2" stroke-linejoin="bevel"><path d="M1052.9 546.7V556.3"/><path d="M1060.4 556.3V546.7L1066.9 556.3V546.7"/><path d="M1081.3 547.85H1075.15V555.15H1081.3M1075.15 551.5H1080.5"/><path d="M1088.5 546.7V556.3"/><path d="M1103 548.6C1102 547.5 1100.5 547.85 1098.6 547.85C1096 547.85 1095.15 549 1095.15 551.5C1095.15 554 1096 555.15 1098.6 555.15C1101.5 555.15 1102.15 554.5 1102.15 552.5V551.8H1099"/><path d="M1109.1 546.7V556.3M1116.2 546.7V556.3M1109.1 551.5H1116.2"/><path d="M1121.3 547.85H1129.3M1125.3 547.85V556.3"/></g>
<path d="M1140 544.3L1146.5 548V555.2L1140 558.8L1133.5 555.2V548Z" fill="none" stroke="#4a5358" stroke-width="1.6"/>
<path d="M1137 550.5L1142.5 547.8M1137 553.2L1143 550.3M1137.2 555.8L1143 553" stroke="#4a5358" stroke-width="1.3"/>
<rect x="372" y="585.3" width="803" height="27" fill="#f3f3f3"/>
<rect x="1175" y="585.3" width="24" height="27" fill="#e8e8e8"/>
<rect x="403.6" y="585.3" width="302.2" height="27" fill="#fff"/>
<rect x="403.1" y="585.3" width="1" height="27" fill="#e1e1e1"/>
<rect x="517.9" y="585.3" width="1" height="27" fill="#e1e1e1"/>
<rect x="622.8" y="585.3" width="1" height="27" fill="#e1e1e1"/>
<rect x="705.3" y="585.3" width="1" height="27" fill="#e1e1e1"/>
<path d="M382 595V602L378 598.5Z" fill="none" stroke="#c6c6c6" stroke-width="0.8"/>
<path d="M395 595V602L399 598.5Z" fill="none" stroke="#c6c6c6" stroke-width="0.8"/>
<text x="419.6" y="602.5" font-size="9.4" fill="#252423" text-anchor="start" font-weight="normal" textLength="83" lengthAdjust="spacingAndGlyphs">Project Performance</text>
<text x="534.7" y="602.5" font-size="9.4" fill="#252423" text-anchor="start" font-weight="normal" textLength="72.6" lengthAdjust="spacingAndGlyphs">Cost Performance</text>
<text x="639.7" y="602.5" font-size="9.4" fill="#252423" text-anchor="start" font-weight="normal" textLength="50.3" lengthAdjust="spacingAndGlyphs">Cost Curves</text>
<rect x="623.3" y="609" width="82.5" height="3" fill="#117865"/>
<rect x="1149.5" y="63" width="1" height="522.3" fill="#e3e3e3"/>
<rect x="1175" y="63" width="1" height="549" fill="#e3e3e3"/>
<rect x="1199" y="31" width="1" height="581" fill="#333"/>
<path d="M1162.6 73.8L1159.9 76.5L1162.6 79.2M1165.6 73.8L1162.9 76.5L1165.6 79.2" fill="none" stroke="#555" stroke-width="1.3"/>
<path d="M1190.5 74.7L1186.3 79.1L1190.5 83.5" fill="none" stroke="#666" stroke-width="1"/>
<path d="M1167.5 94.8V102M1165 96.5V100.2M1162.5 97.7V99" stroke="#666" stroke-width="1"/>
<text transform="translate(1159,110.6) rotate(90)" font-size="11.5" font-weight="bold" fill="#333" textLength="32.7" lengthAdjust="spacingAndGlyphs">Filters</text>
<path d="M1193.3 111.5V120.3H1183.5L1186.1 115.9L1183.5 111.5H1193.3" fill="none" stroke="#555" stroke-width="0.9"/>
<text transform="translate(1184,129.6) rotate(90)" font-size="11.5" fill="#333" textLength="55" lengthAdjust="spacingAndGlyphs">Bookmarks</text></svg>
<svg class="a" style="left:0;top:0" width="1200" height="31">
<g stroke="#f2e6f5" stroke-width="1.6"><path d="M17 10.2H27M17 15H27M17 19.5H27"/></g>
<path d="M55.2 15.4L60 10.7L64.8 15.4M56.7 14V19.6H58.9V16.6H61.1V19.6H63.3V14" fill="none" stroke="#eee" stroke-width="1.2"/>
<text x="82.2" y="19" font-family="Liberation Sans" font-size="9.6" fill="#eee" textLength="30.8" lengthAdjust="spacingAndGlyphs">Explore</text>
<g fill="none" stroke="#dcdcdc" stroke-width="1.3">
<circle cx="1059.1" cy="15.1" r="5.6"/>
<circle cx="1121.5" cy="14.9" r="5.8"/>
<circle cx="1152.9" cy="14.8" r="6.2"/>
</g>
<path d="M1057 13.3C1057 11.8 1057.9 11.2 1059.1 11.2C1060.4 11.2 1061.2 11.9 1061.2 13.1C1061.2 14.5 1059.2 14.6 1059.2 16.4" fill="none" stroke="#e0e0e0" stroke-width="1.6"/>
<rect x="1058.3" y="17.4" width="1.8" height="1.8" fill="#e0e0e0"/>
<circle cx="1121.5" cy="13.2" r="1.9" fill="none" stroke="#dcdcdc" stroke-width="1.2"/>
<path d="M1118.3 18.8C1118.8 16.3 1124.2 16.3 1124.7 18.8Z" fill="#dcdcdc"/>
<path d="M1151.8 11.4H1149.9V18.2H1151.8" fill="none" stroke="#dcdcdc" stroke-width="1"/>
<path d="M1151 13.6H1153.2V11.3L1156.8 14.8L1153.2 18.3V16H1151Z" fill="#f0f0f0"/>
<path d="M1085.6 18.3C1087 17.2 1087.3 16.2 1087.3 14C1087.3 11.6 1088.6 10 1090.4 10C1092.2 10 1093.5 11.6 1093.5 14C1093.5 16.2 1093.8 17.2 1095.2 18.3Z" fill="none" stroke="#dcdcdc" stroke-width="1.1" stroke-linejoin="round"/>
<path d="M1089.3 19.6H1091.5" stroke="#dcdcdc" stroke-width="1.4"/>
<circle cx="1096" cy="7.8" r="5.1" fill="#e5001c"/>
<text x="1096" y="10.7" font-family="Liberation Sans" font-size="7.6" font-weight="bold" fill="#fff" text-anchor="middle" textLength="7.6" lengthAdjust="spacingAndGlyphs">22</text>
<g fill="#e8e8e8">
<rect x="1179.5" y="10.5" width="2" height="2"/><rect x="1183" y="10.5" width="2" height="2"/><rect x="1186.5" y="10.5" width="2" height="2"/>
<rect x="1179.5" y="14" width="2" height="2"/><rect x="1183" y="14" width="2" height="2"/><rect x="1186.5" y="14" width="2" height="2"/>
<rect x="1179.5" y="17.5" width="2" height="2"/><rect x="1183" y="17.5" width="2" height="2"/><rect x="1186.5" y="17.5" width="2" height="2"/>
</g>
</svg>

</body></html>
